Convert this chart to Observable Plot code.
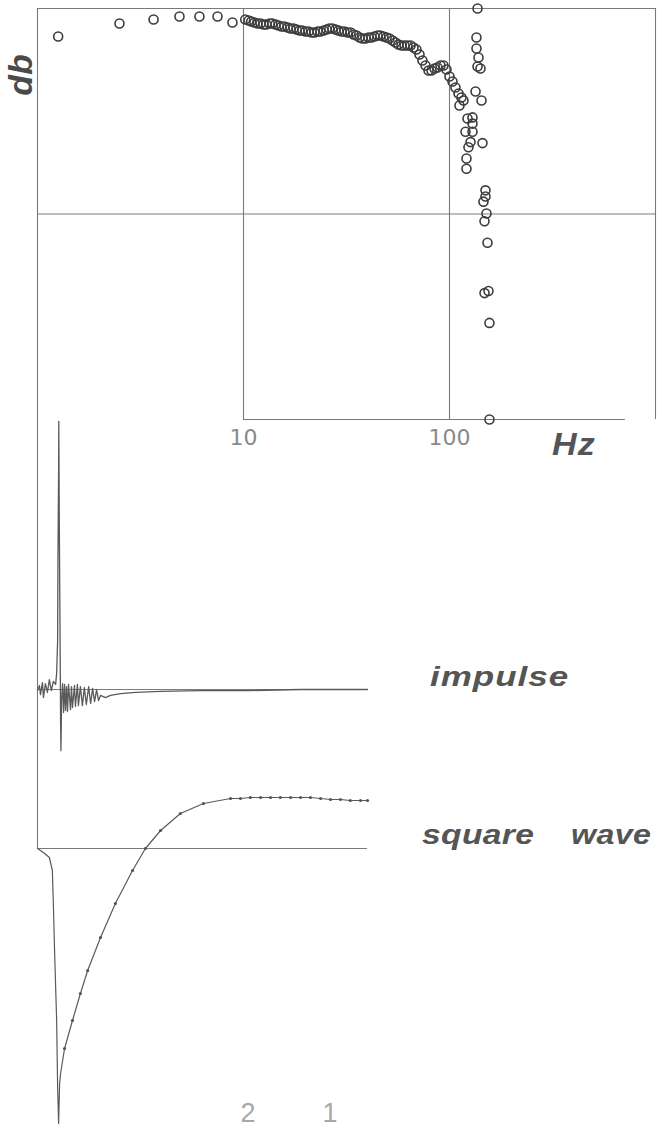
<!DOCTYPE html>
<html><head><meta charset="utf-8">
<script src="https://cdn.jsdelivr.net/npm/d3@7"></script>
<script src="https://cdn.jsdelivr.net/npm/@observablehq/plot@0.6"></script>
<style>
body{margin:0;background:#fff;}
#wrap{position:relative;width:661px;height:1130px;overflow:hidden;background:#fff;}
#wrap svg{position:absolute;left:0;background:transparent;overflow:visible;}
.lab{position:absolute;font-family:"Liberation Sans",Arial,sans-serif;font-weight:bold;font-style:italic;color:#555;white-space:pre;line-height:1;transform-origin:0 50%;}
.num{position:absolute;font-family:"Liberation Sans",Arial,sans-serif;font-weight:300;color:#a8a8a8;line-height:1;text-align:center;width:40px;}
</style></head><body><div id="wrap"></div>
<script>
// ---- frequency response (Hz, dB) ----
const respHz = [1.26,2.50,3.66,4.89,6.11,7.48,8.84,
 10.2,10.6,10.9,11.3,11.7,12.1,12.5,12.9,13.4,13.8,14.3,14.8,15.3,15.8,16.4,16.9,17.5,18.1,18.7,19.3,
 20.0,20.7,21.4,22.1,22.9,23.6,24.5,25.3,26.1,27.0,28.0,28.9,29.9,30.9,32.0,33.1,34.2,35.4,36.6,37.8,
 39.1,40.4,41.8,43.2,44.7,46.2,47.8,49.5,51.1,52.9,54.7,56.5,58.5,60.5,62.5,64.7,66.9,69.1,71.5,73.9,
 76.5,79.1,81.8,84.6,87.4,90.4,93.5,96.7,100,103.4,106.9,110.6,114.3,116.9,
 136.8,135.2,135.2,138.3,136.8,141.4,133.8,143.0,111.8,122.3,129.3,129.3,119.6,129.3,126.5,144.6,
 123.6,120.9,120.9,149.5,149.5,146.2,151.2,147.9,152.9,147.9,154.6,156.3,156.3];
const respDb = [-2.72,-1.46,-1.07,-0.78,-0.78,-0.78,-1.36,
 -1.07,-1.17,-1.27,-1.36,-1.46,-1.46,-1.56,-1.56,-1.46,-1.46,-1.56,-1.65,-1.75,-1.75,-1.85,-1.95,-1.95,-2.04,-2.14,-2.14,
 -2.24,-2.24,-2.34,-2.34,-2.24,-2.24,-2.14,-2.04,-1.95,-1.95,-2.04,-2.14,-2.24,-2.24,-2.34,-2.34,-2.53,-2.63,-2.82,-2.92,
 -2.92,-2.82,-2.82,-2.73,-2.63,-2.63,-2.73,-2.82,-2.92,-3.11,-3.31,-3.50,-3.60,-3.60,-3.60,-3.60,-3.80,-3.99,-4.48,-5.06,
 -5.55,-6.03,-6.03,-5.84,-5.74,-5.55,-5.55,-5.94,-6.62,-7.10,-7.69,-8.27,-8.66,-8.95,
 0,-2.82,-3.89,-4.77,-5.64,-5.84,-8.08,-8.95,-9.44,-10.7,-10.6,-11.2,-12.0,-12.0,-13.0,-13.1,
 -13.5,-14.6,-15.6,-17.7,-18.3,-18.8,-19.95,-20.7,-22.8,-27.7,-27.5,-30.6,-40.0];
const gridHz = [1, 10, 100, 1000];
const gridDb = [0, -20];
const baseDb = [-40];
const baseHzSpan = [10, 714];
const tickHz = [10, 100];

// ---- impulse response (time, amplitude) ----
const impT = [0,0.6,0.9,1.5,1.8,2.4,3.0,3.6,4.2,4.8,5.5,5.8,6.1,6.2,6.4,6.45,6.6,6.8,7.0,7.1,
 7.3,7.6,7.9,8.2,8.5,8.8,9.1,9.4,10.0,10.3,10.6,11.2,11.5,12.1,12.4,13.0,13.6,14.2,14.8,15.5,
 16.1,16.7,17.3,17.9,18.5,19.1,20.6,22.1,25.2,29.7,37.3,49.4,64.5,79.7,100];
const impA = [-0.4,1.5,-1.9,2.6,-3.0,2.2,-1.1,3.7,-0.4,3.0,1.9,6.0,18.3,48,82,100,63,26,-11.6,-22.8,
 -4.1,2.2,-8.6,1.9,-7.8,1.1,-8.2,1.9,-7.5,1.1,-6.7,1.5,-6.3,1.9,-6.0,1.1,-6.0,0.7,-5.6,1.1,
 -5.2,0.4,-4.5,0,-4.1,-2.2,-3.0,-2.2,-1.5,-1.1,-0.7,-0.4,-0.4,0,0];

// ---- square wave response (time, amplitude) ----
const sqT = [0,1.8,3.6,4.5,4.8,5.2,5.8,6.1,6.4,6.7,7.0,8.2,10.6,13.0,15.2,19.1,23.6,28.8,32.7,37.3,
 43.3,50.3,58.5,61.5,64.5,67.6,70.6,73.6,76.7,79.7,82.7,85.8,88.8,91.8,94.8,97.9,100];
const sqS = [0,-0.08,-0.18,-0.44,-1.1,-2.1,-3.44,-4.78,-5.5,-4.7,-4.5,-4.0,-3.44,-2.9,-2.44,-1.78,-1.1,-0.44,0,0.36,
 0.7,0.9,1.0,1.0,1.02,1.02,1.02,1.02,1.02,1.02,1.02,1.0,0.98,0.98,0.96,0.96,0.96];

const resp = respHz.map((h, i) => ({hz: h, db: respDb[i]}));
const imp = impT.map((t, i) => ({t, a: impA[i]}));
const sq = sqT.map((t, i) => ({t, s: sqS[i]}));

const lineC = "#7a7a7a";
const traceC = "#5a5a5a";
const wrap = document.getElementById("wrap");

const topPlot = Plot.plot({
  width: 661, height: 470,
  marginLeft: 37, marginRight: 6, marginTop: 8, marginBottom: 51,
  x: {type: "log", domain: [1, 1000]},
  y: {domain: [-40, 0], axis: null},
  style: {background: "transparent", overflow: "visible"},
  marks: [
    Plot.ruleY(gridDb, {x1: gridHz[0], x2: gridHz[3], stroke: lineC, strokeWidth: 1.1}),
    Plot.ruleY(baseDb, {x1: baseHzSpan[0], x2: baseHzSpan[1], stroke: lineC, strokeWidth: 1.1}),
    Plot.ruleX(gridHz, {y1: -40, y2: 0, stroke: lineC, strokeWidth: 1.1}),
    Plot.dot(resp, {x: "hz", y: "db", r: 4.5, stroke: "#3c3c3c", strokeWidth: 1.6, fill: "none"}),
    Plot.axisX(tickHz, {tickSize: 0, tickPadding: 10, fontSize: 22, fontFamily: "DejaVu Sans", fill: "#8a8a8a", tickFormat: d => String(d), label: null})
  ]
});
topPlot.style.top = "0px";
wrap.appendChild(topPlot);

const impPlot = Plot.plot({
  width: 661, height: 370,
  marginLeft: 37, marginRight: 294, marginTop: 19, marginBottom: 0,
  x: {domain: [0, 100], axis: null},
  y: {domain: [-30.2, 100.7], axis: null},
  style: {background: "transparent", overflow: "visible"},
  marks: [
    Plot.ruleX([0], {stroke: lineC, strokeWidth: 1.1}),
    Plot.ruleY([0], {x1: 0, x2: 100, stroke: lineC, strokeWidth: 1}),
    Plot.line(imp, {x: "t", y: "a", stroke: traceC, strokeWidth: 1.3})
  ]
});
impPlot.style.top = "400px";
wrap.appendChild(impPlot);

const sqPlot = Plot.plot({
  width: 661, height: 360,
  marginLeft: 37, marginRight: 294, marginTop: 0, marginBottom: 2,
  x: {domain: [0, 100], axis: null},
  y: {domain: [-5.6, 1.56], axis: null},
  style: {background: "transparent", overflow: "visible"},
  marks: [
    Plot.ruleX([0], {y1: 0, y2: 1.56, stroke: lineC, strokeWidth: 1.1}),
    Plot.ruleY([0], {x1: 0, x2: 100, stroke: lineC, strokeWidth: 1}),
    Plot.line(sq, {x: "t", y: "s", stroke: traceC, strokeWidth: 1.2}),
    Plot.dot(sq.filter(d => d.t >= 8), {x: "t", y: "s", r: 1.6, fill: "#555", stroke: "none"})
  ]
});
sqPlot.style.top = "770px";
wrap.appendChild(sqPlot);

function lab(text, cls, css) {
  const d = document.createElement("div");
  d.className = cls;
  d.textContent = text;
  Object.assign(d.style, css);
  wrap.appendChild(d);
  return d;
}
lab("db", "lab", {left: "20px", top: "75px", fontSize: "34px", color: "#4a4a4a", transformOrigin: "50% 50%", transform: "translate(-50%,-50%) rotate(-90deg)"});
lab("Hz", "lab", {left: "552px", top: "429px", fontSize: "31px", letterSpacing: "1px", transform: "scaleX(1.1)"});
lab("impulse", "lab", {left: "430px", top: "663px", fontSize: "28px", letterSpacing: "0.8px", transform: "scaleX(1.25)"});
lab("square", "lab", {left: "422px", top: "821px", fontSize: "28px", letterSpacing: "0.3px", transform: "scaleX(1.2)"});
lab("wave", "lab", {left: "571px", top: "821px", fontSize: "28px", letterSpacing: "0.3px", transform: "scaleX(1.15)"});
lab("2", "num", {left: "228px", top: "1100px", fontSize: "27px"});
lab("1", "num", {left: "310px", top: "1100px", fontSize: "27px"});
</script>
</body></html>
